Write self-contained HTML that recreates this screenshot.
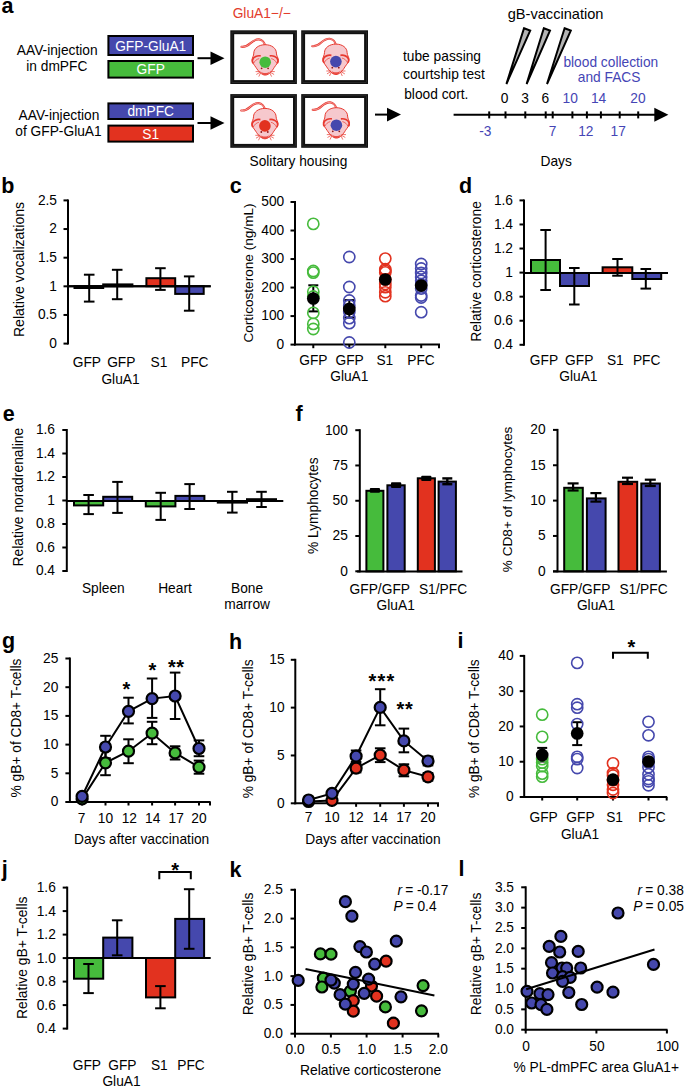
<!DOCTYPE html>
<html><head><meta charset="utf-8"><title>Figure</title>
<style>
html,body{margin:0;padding:0;background:#fff;}
svg{display:block;}
text{font-family:"Liberation Sans",sans-serif;font-size:13.75px;}
</style></head>
<body>
<svg width="685" height="1088" viewBox="0 0 685 1088">
<rect width="685" height="1088" fill="#fff"/>
<text x="1.40" y="12.70" font-weight="bold" style="font-size:21.5px">a</text>
<text x="261.70" y="18.40" text-anchor="middle" fill="#e23c2c">GluA1−/−</text>
<text x="57.20" y="55.00" text-anchor="middle">AAV-injection</text>
<text x="56.80" y="71.40" text-anchor="middle">in dmPFC</text>
<text x="59.00" y="119.60" text-anchor="middle">AAV-injection</text>
<text x="58.50" y="136.00" text-anchor="middle">of GFP-GluA1</text>
<rect x="108.40" y="36.00" width="84.60" height="19.00" fill="#4548ad" stroke="#000" stroke-width="2"/>
<text x="150.70" y="51.00" text-anchor="middle" fill="#fff">GFP-GluA1</text>
<rect x="108.40" y="61.00" width="84.60" height="16.60" fill="#46bb3c" stroke="#000" stroke-width="2"/>
<text x="150.70" y="74.30" text-anchor="middle" fill="#fff">GFP</text>
<rect x="108.40" y="103.40" width="84.60" height="15.60" fill="#4548ad" stroke="#000" stroke-width="2"/>
<text x="150.70" y="116.40" text-anchor="middle" fill="#fff">dmPFC</text>
<rect x="108.40" y="125.60" width="84.60" height="16.00" fill="#e2321f" stroke="#000" stroke-width="2"/>
<text x="150.70" y="139.00" text-anchor="middle" fill="#fff">S1</text>
<line x1="197.50" y1="58.20" x2="211.50" y2="58.20" stroke="#000" stroke-width="2"/>
<polygon points="210.50,51.40 224.50,58.20 210.50,65.00" fill="#000"/>
<line x1="197.50" y1="123.00" x2="211.50" y2="123.00" stroke="#000" stroke-width="2"/>
<polygon points="210.50,116.20 224.50,123.00 210.50,129.80" fill="#000"/>
<line x1="375.00" y1="114.60" x2="388.00" y2="114.60" stroke="#000" stroke-width="2"/>
<polygon points="387.00,107.80 401.00,114.60 387.00,121.40" fill="#000"/>
<rect x="232.25" y="32.25" width="62.70" height="49.80" fill="#fff" stroke="#111" stroke-width="3.9"/>
<rect x="232.00" y="32.00" width="63.20" height="50.30" fill="none" stroke="#3a3a3a" stroke-width="0.5"/>
<rect x="303.15" y="32.25" width="62.90" height="49.80" fill="#fff" stroke="#111" stroke-width="3.9"/>
<rect x="302.90" y="32.00" width="63.40" height="50.30" fill="none" stroke="#3a3a3a" stroke-width="0.5"/>
<rect x="232.25" y="96.05" width="62.70" height="49.80" fill="#fff" stroke="#111" stroke-width="3.9"/>
<rect x="232.00" y="95.80" width="63.20" height="50.30" fill="none" stroke="#3a3a3a" stroke-width="0.5"/>
<rect x="303.15" y="96.05" width="62.90" height="49.80" fill="#fff" stroke="#111" stroke-width="3.9"/>
<rect x="302.90" y="95.80" width="63.40" height="50.30" fill="none" stroke="#3a3a3a" stroke-width="0.5"/>
<g transform="translate(265.20,62.20)"><path d="M-0.2,-17.2 C-0.8,-19.5 -3,-22.6 -6.2,-22.8 C-9.5,-23 -12,-21.5 -15,-18.8 C-17.5,-16.5 -20,-15 -23.7,-15.4" fill="none" stroke="#e8392f" stroke-width="2.1" stroke-linecap="round"/><path d="M-0.2,-17.2 C-0.8,-19.5 -3,-22.6 -6.2,-22.8 C-9.5,-23 -12,-21.5 -15,-18.8 C-17.5,-16.5 -20,-15 -23.7,-15.4" fill="none" stroke="#f9d3d7" stroke-width="0.6" stroke-linecap="round"/><path d="M0,-17.5 C6.5,-17.5 11.2,-13.8 11.2,-9.1 C11.2,-6.2 13.1,-4.6 13.1,-2.3 C13.1,0.6 11,2.2 9,5.3 C7,8.8 3.6,12.9 0,12.9 C-3.6,12.9 -7,8.8 -9.2,5.3 C-11.2,2.2 -13.1,0.6 -13.1,-2.3 C-13.1,-4.6 -11.4,-6.2 -11.4,-9.1 C-11.4,-13.8 -6.5,-17.5 0,-17.5 Z" fill="#f6c8cd" stroke="#e8392f" stroke-width="1"/><path d="M-4.5,-6.3 C-8,-6.9 -11.6,-5.4 -12.6,-2.6 C-13,-1.2 -12.7,0.2 -12.1,1" fill="none" stroke="#e8392f" stroke-width="1.7"/><path d="M4.5,-6.3 C8,-6.9 11.6,-5.4 12.6,-2.6 C13,-1.2 12.7,0.2 12.1,1" fill="none" stroke="#e8392f" stroke-width="1.7"/><path d="M-11.8,1.5 C-10.5,-1.5 -8.5,-3 -6,-3.6 M11.8,1.5 C10.5,-1.5 8.5,-3 6,-3.6" fill="none" stroke="#e8392f" stroke-width="0.7"/><path d="M-4.6,9.2 C-2,11.2 2,11.2 4.6,9.2 L2.6,12.4 L0,12.9 L-2.6,12.4 Z" fill="#e8392f" opacity="0.85"/><circle cx="-3.6" cy="6.1" r="0.9" fill="#8e1717"/><circle cx="2.9" cy="6.1" r="0.9" fill="#8e1717"/><path d="M-5,9.4 L-9.6,9.4 M-5,10 L-8.9,12.3 M-4.6,10.6 L-6.4,14.4 M5,9.4 L9.6,9.4 M5,10 L8.9,12.3 M4.6,10.6 L6.4,14.4" stroke="#e8392f" stroke-width="0.7" fill="none"/><circle cx="0" cy="0" r="5.8" fill="#46bb3c"/></g>
<g transform="translate(335.90,61.60)"><path d="M-0.2,-17.2 C-0.8,-19.5 -3,-22.6 -6.2,-22.8 C-9.5,-23 -12,-21.5 -15,-18.8 C-17.5,-16.5 -20,-15 -23.7,-15.4" fill="none" stroke="#e8392f" stroke-width="2.1" stroke-linecap="round"/><path d="M-0.2,-17.2 C-0.8,-19.5 -3,-22.6 -6.2,-22.8 C-9.5,-23 -12,-21.5 -15,-18.8 C-17.5,-16.5 -20,-15 -23.7,-15.4" fill="none" stroke="#f9d3d7" stroke-width="0.6" stroke-linecap="round"/><path d="M0,-17.5 C6.5,-17.5 11.2,-13.8 11.2,-9.1 C11.2,-6.2 13.1,-4.6 13.1,-2.3 C13.1,0.6 11,2.2 9,5.3 C7,8.8 3.6,12.9 0,12.9 C-3.6,12.9 -7,8.8 -9.2,5.3 C-11.2,2.2 -13.1,0.6 -13.1,-2.3 C-13.1,-4.6 -11.4,-6.2 -11.4,-9.1 C-11.4,-13.8 -6.5,-17.5 0,-17.5 Z" fill="#f6c8cd" stroke="#e8392f" stroke-width="1"/><path d="M-4.5,-6.3 C-8,-6.9 -11.6,-5.4 -12.6,-2.6 C-13,-1.2 -12.7,0.2 -12.1,1" fill="none" stroke="#e8392f" stroke-width="1.7"/><path d="M4.5,-6.3 C8,-6.9 11.6,-5.4 12.6,-2.6 C13,-1.2 12.7,0.2 12.1,1" fill="none" stroke="#e8392f" stroke-width="1.7"/><path d="M-11.8,1.5 C-10.5,-1.5 -8.5,-3 -6,-3.6 M11.8,1.5 C10.5,-1.5 8.5,-3 6,-3.6" fill="none" stroke="#e8392f" stroke-width="0.7"/><path d="M-4.6,9.2 C-2,11.2 2,11.2 4.6,9.2 L2.6,12.4 L0,12.9 L-2.6,12.4 Z" fill="#e8392f" opacity="0.85"/><circle cx="-3.6" cy="6.1" r="0.9" fill="#8e1717"/><circle cx="2.9" cy="6.1" r="0.9" fill="#8e1717"/><path d="M-5,9.4 L-9.6,9.4 M-5,10 L-8.9,12.3 M-4.6,10.6 L-6.4,14.4 M5,9.4 L9.6,9.4 M5,10 L8.9,12.3 M4.6,10.6 L6.4,14.4" stroke="#e8392f" stroke-width="0.7" fill="none"/><circle cx="0" cy="0" r="5.8" fill="#4548ad"/></g>
<g transform="translate(264.90,125.90)"><path d="M-0.2,-17.2 C-0.8,-19.5 -3,-22.6 -6.2,-22.8 C-9.5,-23 -12,-21.5 -15,-18.8 C-17.5,-16.5 -20,-15 -23.7,-15.4" fill="none" stroke="#e8392f" stroke-width="2.1" stroke-linecap="round"/><path d="M-0.2,-17.2 C-0.8,-19.5 -3,-22.6 -6.2,-22.8 C-9.5,-23 -12,-21.5 -15,-18.8 C-17.5,-16.5 -20,-15 -23.7,-15.4" fill="none" stroke="#f9d3d7" stroke-width="0.6" stroke-linecap="round"/><path d="M0,-17.5 C6.5,-17.5 11.2,-13.8 11.2,-9.1 C11.2,-6.2 13.1,-4.6 13.1,-2.3 C13.1,0.6 11,2.2 9,5.3 C7,8.8 3.6,12.9 0,12.9 C-3.6,12.9 -7,8.8 -9.2,5.3 C-11.2,2.2 -13.1,0.6 -13.1,-2.3 C-13.1,-4.6 -11.4,-6.2 -11.4,-9.1 C-11.4,-13.8 -6.5,-17.5 0,-17.5 Z" fill="#f6c8cd" stroke="#e8392f" stroke-width="1"/><path d="M-4.5,-6.3 C-8,-6.9 -11.6,-5.4 -12.6,-2.6 C-13,-1.2 -12.7,0.2 -12.1,1" fill="none" stroke="#e8392f" stroke-width="1.7"/><path d="M4.5,-6.3 C8,-6.9 11.6,-5.4 12.6,-2.6 C13,-1.2 12.7,0.2 12.1,1" fill="none" stroke="#e8392f" stroke-width="1.7"/><path d="M-11.8,1.5 C-10.5,-1.5 -8.5,-3 -6,-3.6 M11.8,1.5 C10.5,-1.5 8.5,-3 6,-3.6" fill="none" stroke="#e8392f" stroke-width="0.7"/><path d="M-4.6,9.2 C-2,11.2 2,11.2 4.6,9.2 L2.6,12.4 L0,12.9 L-2.6,12.4 Z" fill="#e8392f" opacity="0.85"/><circle cx="-3.6" cy="6.1" r="0.9" fill="#8e1717"/><circle cx="2.9" cy="6.1" r="0.9" fill="#8e1717"/><path d="M-5,9.4 L-9.6,9.4 M-5,10 L-8.9,12.3 M-4.6,10.6 L-6.4,14.4 M5,9.4 L9.6,9.4 M5,10 L8.9,12.3 M4.6,10.6 L6.4,14.4" stroke="#e8392f" stroke-width="0.7" fill="none"/><circle cx="0" cy="0" r="5.8" fill="#e2321f"/></g>
<g transform="translate(336.40,125.20)"><path d="M-0.2,-17.2 C-0.8,-19.5 -3,-22.6 -6.2,-22.8 C-9.5,-23 -12,-21.5 -15,-18.8 C-17.5,-16.5 -20,-15 -23.7,-15.4" fill="none" stroke="#e8392f" stroke-width="2.1" stroke-linecap="round"/><path d="M-0.2,-17.2 C-0.8,-19.5 -3,-22.6 -6.2,-22.8 C-9.5,-23 -12,-21.5 -15,-18.8 C-17.5,-16.5 -20,-15 -23.7,-15.4" fill="none" stroke="#f9d3d7" stroke-width="0.6" stroke-linecap="round"/><path d="M0,-17.5 C6.5,-17.5 11.2,-13.8 11.2,-9.1 C11.2,-6.2 13.1,-4.6 13.1,-2.3 C13.1,0.6 11,2.2 9,5.3 C7,8.8 3.6,12.9 0,12.9 C-3.6,12.9 -7,8.8 -9.2,5.3 C-11.2,2.2 -13.1,0.6 -13.1,-2.3 C-13.1,-4.6 -11.4,-6.2 -11.4,-9.1 C-11.4,-13.8 -6.5,-17.5 0,-17.5 Z" fill="#f6c8cd" stroke="#e8392f" stroke-width="1"/><path d="M-4.5,-6.3 C-8,-6.9 -11.6,-5.4 -12.6,-2.6 C-13,-1.2 -12.7,0.2 -12.1,1" fill="none" stroke="#e8392f" stroke-width="1.7"/><path d="M4.5,-6.3 C8,-6.9 11.6,-5.4 12.6,-2.6 C13,-1.2 12.7,0.2 12.1,1" fill="none" stroke="#e8392f" stroke-width="1.7"/><path d="M-11.8,1.5 C-10.5,-1.5 -8.5,-3 -6,-3.6 M11.8,1.5 C10.5,-1.5 8.5,-3 6,-3.6" fill="none" stroke="#e8392f" stroke-width="0.7"/><path d="M-4.6,9.2 C-2,11.2 2,11.2 4.6,9.2 L2.6,12.4 L0,12.9 L-2.6,12.4 Z" fill="#e8392f" opacity="0.85"/><circle cx="-3.6" cy="6.1" r="0.9" fill="#8e1717"/><circle cx="2.9" cy="6.1" r="0.9" fill="#8e1717"/><path d="M-5,9.4 L-9.6,9.4 M-5,10 L-8.9,12.3 M-4.6,10.6 L-6.4,14.4 M5,9.4 L9.6,9.4 M5,10 L8.9,12.3 M4.6,10.6 L6.4,14.4" stroke="#e8392f" stroke-width="0.7" fill="none"/><circle cx="0" cy="0" r="5.8" fill="#4548ad"/></g>
<text x="298.40" y="166.40" text-anchor="middle">Solitary housing</text>
<text x="403.00" y="61.00">tube passing</text>
<text x="403.00" y="78.60">courtship test</text>
<text x="404.20" y="98.60">blood cort.</text>
<text x="555.60" y="19.40" text-anchor="middle" style="font-size:14.6px">gB-vaccination</text>
<text x="610.80" y="66.80" text-anchor="middle" fill="#4545b5">blood collection</text>
<text x="609.10" y="82.20" text-anchor="middle" fill="#4545b5">and FACS</text>
<line x1="453.60" y1="114.80" x2="656.00" y2="114.80" stroke="#000" stroke-width="2"/>
<polygon points="654.3,107.8 668.4,114.8 654.3,121.8" fill="#000"/>
<line x1="489.20" y1="111.40" x2="489.20" y2="118.40" stroke="#000" stroke-width="2"/>
<line x1="505.50" y1="111.40" x2="505.50" y2="118.40" stroke="#000" stroke-width="2"/>
<line x1="525.30" y1="111.40" x2="525.30" y2="118.40" stroke="#000" stroke-width="2"/>
<line x1="545.70" y1="111.40" x2="545.70" y2="118.40" stroke="#000" stroke-width="2"/>
<line x1="552.70" y1="111.40" x2="552.70" y2="118.40" stroke="#000" stroke-width="2"/>
<line x1="572.40" y1="111.40" x2="572.40" y2="118.40" stroke="#000" stroke-width="2"/>
<line x1="586.90" y1="111.40" x2="586.90" y2="118.40" stroke="#000" stroke-width="2"/>
<line x1="600.90" y1="111.40" x2="600.90" y2="118.40" stroke="#000" stroke-width="2"/>
<line x1="619.70" y1="111.40" x2="619.70" y2="118.40" stroke="#000" stroke-width="2"/>
<line x1="638.20" y1="111.40" x2="638.20" y2="118.40" stroke="#000" stroke-width="2"/>
<text x="504.70" y="102.50" text-anchor="middle">0</text>
<text x="525.00" y="102.50" text-anchor="middle">3</text>
<text x="545.30" y="102.50" text-anchor="middle">6</text>
<text x="570.20" y="102.50" text-anchor="middle" fill="#4545b5">10</text>
<text x="598.60" y="102.50" text-anchor="middle" fill="#4545b5">14</text>
<text x="638.00" y="102.50" text-anchor="middle" fill="#4545b5">20</text>
<text x="485.30" y="135.80" text-anchor="middle" fill="#4545b5">-3</text>
<text x="552.70" y="135.80" text-anchor="middle" fill="#4545b5">7</text>
<text x="585.80" y="135.80" text-anchor="middle" fill="#4545b5">12</text>
<text x="618.20" y="135.80" text-anchor="middle" fill="#4545b5">17</text>
<text x="556.20" y="166.00" text-anchor="middle">Days</text>
<polygon points="524,28.2 530.2,30.6 506.4,84.0" fill="#b4b4b4" stroke="#000" stroke-width="2" stroke-linejoin="miter"/>
<polygon points="543.8,28.2 550.0,30.6 526.6,84.0" fill="#b4b4b4" stroke="#000" stroke-width="2" stroke-linejoin="miter"/>
<polygon points="564.6,28.2 570.8,30.6 547.0,84.0" fill="#b4b4b4" stroke="#000" stroke-width="2" stroke-linejoin="miter"/>
<text x="1.20" y="192.70" font-weight="bold" style="font-size:21.5px">b</text>
<line x1="68.00" y1="199.40" x2="68.00" y2="344.60" stroke="#000" stroke-width="2"/>
<line x1="63.50" y1="200.40" x2="68.00" y2="200.40" stroke="#000" stroke-width="2"/>
<text x="57.00" y="204.80" text-anchor="end">2.5</text>
<line x1="63.50" y1="229.04" x2="68.00" y2="229.04" stroke="#000" stroke-width="2"/>
<text x="57.00" y="233.44" text-anchor="end">2</text>
<line x1="63.50" y1="257.68" x2="68.00" y2="257.68" stroke="#000" stroke-width="2"/>
<text x="57.00" y="262.08" text-anchor="end">1.5</text>
<line x1="63.50" y1="286.32" x2="68.00" y2="286.32" stroke="#000" stroke-width="2"/>
<text x="57.00" y="290.72" text-anchor="end">1</text>
<line x1="63.50" y1="314.96" x2="68.00" y2="314.96" stroke="#000" stroke-width="2"/>
<text x="57.00" y="319.36" text-anchor="end">0.5</text>
<line x1="63.50" y1="343.60" x2="68.00" y2="343.60" stroke="#000" stroke-width="2"/>
<text x="57.00" y="348.00" text-anchor="end">0</text>
<line x1="68.00" y1="286.20" x2="210.70" y2="286.20" stroke="#000" stroke-width="2"/>
<rect x="74.50" y="286.20" width="28.70" height="1.80" fill="#46bb3c" stroke="#000" stroke-width="2"/>
<rect x="103.20" y="284.40" width="29.20" height="1.80" fill="#4548ad" stroke="#000" stroke-width="2"/>
<rect x="146.40" y="278.20" width="28.80" height="8.00" fill="#e2321f" stroke="#000" stroke-width="2"/>
<rect x="175.20" y="286.20" width="28.50" height="7.70" fill="#4548ad" stroke="#000" stroke-width="2"/>
<line x1="68.00" y1="286.20" x2="210.70" y2="286.20" stroke="#000" stroke-width="2"/>
<line x1="89.20" y1="274.70" x2="89.20" y2="301.60" stroke="#000" stroke-width="2"/>
<line x1="83.90" y1="274.70" x2="94.50" y2="274.70" stroke="#000" stroke-width="2"/>
<line x1="83.90" y1="301.60" x2="94.50" y2="301.60" stroke="#000" stroke-width="2"/>
<line x1="117.20" y1="269.80" x2="117.20" y2="299.20" stroke="#000" stroke-width="2"/>
<line x1="111.90" y1="269.80" x2="122.50" y2="269.80" stroke="#000" stroke-width="2"/>
<line x1="111.90" y1="299.20" x2="122.50" y2="299.20" stroke="#000" stroke-width="2"/>
<line x1="160.40" y1="268.20" x2="160.40" y2="289.90" stroke="#000" stroke-width="2"/>
<line x1="155.10" y1="268.20" x2="165.70" y2="268.20" stroke="#000" stroke-width="2"/>
<line x1="155.10" y1="289.90" x2="165.70" y2="289.90" stroke="#000" stroke-width="2"/>
<line x1="189.20" y1="276.40" x2="189.20" y2="310.70" stroke="#000" stroke-width="2"/>
<line x1="183.90" y1="276.40" x2="194.50" y2="276.40" stroke="#000" stroke-width="2"/>
<line x1="183.90" y1="310.70" x2="194.50" y2="310.70" stroke="#000" stroke-width="2"/>
<text x="86.90" y="367.00" text-anchor="middle">GFP</text>
<text x="121.30" y="367.00" text-anchor="middle">GFP</text>
<text x="159.00" y="367.00" text-anchor="middle">S1</text>
<text x="194.80" y="367.00" text-anchor="middle">PFC</text>
<text x="120.50" y="383.60" text-anchor="middle">GluA1</text>
<text transform="translate(23.80,269.50) rotate(-90)" text-anchor="middle" style="font-size:14.05px">Relative vocalizations</text>
<text x="229.70" y="192.60" font-weight="bold" style="font-size:21.5px">c</text>
<line x1="295.00" y1="201.00" x2="295.00" y2="345.40" stroke="#000" stroke-width="2"/>
<line x1="290.50" y1="202.00" x2="295.00" y2="202.00" stroke="#000" stroke-width="2"/>
<text x="284.20" y="206.40" text-anchor="end">500</text>
<line x1="290.50" y1="230.52" x2="295.00" y2="230.52" stroke="#000" stroke-width="2"/>
<text x="284.20" y="234.92" text-anchor="end">400</text>
<line x1="290.50" y1="259.04" x2="295.00" y2="259.04" stroke="#000" stroke-width="2"/>
<text x="284.20" y="263.44" text-anchor="end">300</text>
<line x1="290.50" y1="287.56" x2="295.00" y2="287.56" stroke="#000" stroke-width="2"/>
<text x="284.20" y="291.96" text-anchor="end">200</text>
<line x1="290.50" y1="316.08" x2="295.00" y2="316.08" stroke="#000" stroke-width="2"/>
<text x="284.20" y="320.48" text-anchor="end">100</text>
<line x1="290.50" y1="344.60" x2="295.00" y2="344.60" stroke="#000" stroke-width="2"/>
<text x="284.20" y="349.00" text-anchor="end">0</text>
<line x1="294.00" y1="344.40" x2="440.00" y2="344.40" stroke="#000" stroke-width="2"/>
<line x1="313.30" y1="344.40" x2="313.30" y2="348.20" stroke="#000" stroke-width="2"/>
<line x1="349.30" y1="344.40" x2="349.30" y2="348.20" stroke="#000" stroke-width="2"/>
<line x1="385.30" y1="344.40" x2="385.30" y2="348.20" stroke="#000" stroke-width="2"/>
<line x1="421.20" y1="344.40" x2="421.20" y2="348.20" stroke="#000" stroke-width="2"/>
<line x1="439.00" y1="344.40" x2="439.00" y2="348.20" stroke="#000" stroke-width="2"/>
<line x1="313.30" y1="285.30" x2="313.30" y2="311.40" stroke="#000" stroke-width="2"/>
<line x1="308.30" y1="285.30" x2="318.30" y2="285.30" stroke="#000" stroke-width="2"/>
<line x1="308.30" y1="311.40" x2="318.30" y2="311.40" stroke="#000" stroke-width="2"/>
<line x1="349.30" y1="300.10" x2="349.30" y2="317.60" stroke="#000" stroke-width="2"/>
<line x1="344.30" y1="300.10" x2="354.30" y2="300.10" stroke="#000" stroke-width="2"/>
<line x1="344.30" y1="317.60" x2="354.30" y2="317.60" stroke="#000" stroke-width="2"/>
<line x1="385.30" y1="275.50" x2="385.30" y2="283.50" stroke="#000" stroke-width="2"/>
<line x1="381.30" y1="275.50" x2="389.30" y2="275.50" stroke="#000" stroke-width="2"/>
<line x1="381.30" y1="283.50" x2="389.30" y2="283.50" stroke="#000" stroke-width="2"/>
<line x1="421.20" y1="281.60" x2="421.20" y2="289.60" stroke="#000" stroke-width="2"/>
<line x1="417.20" y1="281.60" x2="425.20" y2="281.60" stroke="#000" stroke-width="2"/>
<line x1="417.20" y1="289.60" x2="425.20" y2="289.60" stroke="#000" stroke-width="2"/>
<circle cx="313.30" cy="223.90" r="5.6" fill="none" stroke="#46bb3c" stroke-width="1.6"/>
<circle cx="313.30" cy="271.00" r="5.6" fill="none" stroke="#46bb3c" stroke-width="1.6"/>
<circle cx="313.30" cy="272.60" r="5.6" fill="none" stroke="#46bb3c" stroke-width="1.6"/>
<circle cx="313.30" cy="291.70" r="5.6" fill="none" stroke="#46bb3c" stroke-width="1.6"/>
<circle cx="313.30" cy="296.50" r="5.6" fill="none" stroke="#46bb3c" stroke-width="1.6"/>
<circle cx="313.30" cy="312.90" r="5.6" fill="none" stroke="#46bb3c" stroke-width="1.6"/>
<circle cx="313.30" cy="323.90" r="5.6" fill="none" stroke="#46bb3c" stroke-width="1.6"/>
<circle cx="313.30" cy="329.00" r="5.6" fill="none" stroke="#46bb3c" stroke-width="1.6"/>
<circle cx="349.30" cy="257.00" r="5.6" fill="none" stroke="#4548ad" stroke-width="1.6"/>
<circle cx="349.30" cy="287.00" r="5.6" fill="none" stroke="#4548ad" stroke-width="1.6"/>
<circle cx="349.30" cy="300.50" r="5.6" fill="none" stroke="#4548ad" stroke-width="1.6"/>
<circle cx="349.30" cy="305.50" r="5.6" fill="none" stroke="#4548ad" stroke-width="1.6"/>
<circle cx="349.30" cy="312.00" r="5.6" fill="none" stroke="#4548ad" stroke-width="1.6"/>
<circle cx="349.30" cy="318.10" r="5.6" fill="none" stroke="#4548ad" stroke-width="1.6"/>
<circle cx="349.30" cy="323.20" r="5.6" fill="none" stroke="#4548ad" stroke-width="1.6"/>
<circle cx="349.30" cy="342.50" r="5.6" fill="none" stroke="#4548ad" stroke-width="1.6"/>
<circle cx="385.30" cy="258.60" r="5.6" fill="none" stroke="#e2321f" stroke-width="1.6"/>
<circle cx="385.30" cy="269.20" r="5.6" fill="none" stroke="#e2321f" stroke-width="1.6"/>
<circle cx="385.30" cy="270.80" r="5.6" fill="none" stroke="#e2321f" stroke-width="1.6"/>
<circle cx="385.30" cy="272.40" r="5.6" fill="none" stroke="#e2321f" stroke-width="1.6"/>
<circle cx="385.30" cy="279.50" r="5.6" fill="none" stroke="#e2321f" stroke-width="1.6"/>
<circle cx="385.30" cy="284.00" r="5.6" fill="none" stroke="#e2321f" stroke-width="1.6"/>
<circle cx="385.30" cy="287.20" r="5.6" fill="none" stroke="#e2321f" stroke-width="1.6"/>
<circle cx="385.30" cy="292.30" r="5.6" fill="none" stroke="#e2321f" stroke-width="1.6"/>
<circle cx="385.30" cy="296.20" r="5.6" fill="none" stroke="#e2321f" stroke-width="1.6"/>
<circle cx="421.20" cy="264.00" r="5.6" fill="none" stroke="#4548ad" stroke-width="1.6"/>
<circle cx="421.20" cy="268.50" r="5.6" fill="none" stroke="#4548ad" stroke-width="1.6"/>
<circle cx="421.20" cy="273.00" r="5.6" fill="none" stroke="#4548ad" stroke-width="1.6"/>
<circle cx="421.20" cy="276.90" r="5.6" fill="none" stroke="#4548ad" stroke-width="1.6"/>
<circle cx="421.20" cy="280.70" r="5.6" fill="none" stroke="#4548ad" stroke-width="1.6"/>
<circle cx="421.20" cy="284.60" r="5.6" fill="none" stroke="#4548ad" stroke-width="1.6"/>
<circle cx="421.20" cy="288.50" r="5.6" fill="none" stroke="#4548ad" stroke-width="1.6"/>
<circle cx="421.20" cy="295.50" r="5.6" fill="none" stroke="#4548ad" stroke-width="1.6"/>
<circle cx="421.20" cy="297.50" r="5.6" fill="none" stroke="#4548ad" stroke-width="1.6"/>
<circle cx="421.20" cy="312.20" r="5.6" fill="none" stroke="#4548ad" stroke-width="1.6"/>
<circle cx="313.30" cy="298.50" r="6.35" fill="#000"/>
<circle cx="349.30" cy="308.90" r="6.35" fill="#000"/>
<circle cx="385.30" cy="279.50" r="6.35" fill="#000"/>
<circle cx="421.20" cy="285.60" r="6.35" fill="#000"/>
<text x="313.40" y="364.80" text-anchor="middle">GFP</text>
<text x="349.60" y="364.80" text-anchor="middle">GFP</text>
<text x="384.80" y="364.80" text-anchor="middle">S1</text>
<text x="421.00" y="364.80" text-anchor="middle">PFC</text>
<text x="349.30" y="381.30" text-anchor="middle">GluA1</text>
<text transform="translate(252.50,273.00) rotate(-90)" text-anchor="middle" style="font-size:13.62px">Corticosterone (ng/mL)</text>
<text x="459.10" y="192.60" font-weight="bold" style="font-size:21.5px">d</text>
<line x1="524.00" y1="199.40" x2="524.00" y2="345.80" stroke="#000" stroke-width="2"/>
<line x1="519.50" y1="200.40" x2="524.00" y2="200.40" stroke="#000" stroke-width="2"/>
<text x="513.00" y="204.80" text-anchor="end">1.6</text>
<line x1="519.50" y1="224.47" x2="524.00" y2="224.47" stroke="#000" stroke-width="2"/>
<text x="513.00" y="228.87" text-anchor="end">1.4</text>
<line x1="519.50" y1="248.53" x2="524.00" y2="248.53" stroke="#000" stroke-width="2"/>
<text x="513.00" y="252.93" text-anchor="end">1.2</text>
<line x1="519.50" y1="272.60" x2="524.00" y2="272.60" stroke="#000" stroke-width="2"/>
<text x="513.00" y="277.00" text-anchor="end">1</text>
<line x1="519.50" y1="296.67" x2="524.00" y2="296.67" stroke="#000" stroke-width="2"/>
<text x="513.00" y="301.07" text-anchor="end">0.8</text>
<line x1="519.50" y1="320.73" x2="524.00" y2="320.73" stroke="#000" stroke-width="2"/>
<text x="513.00" y="325.13" text-anchor="end">0.6</text>
<line x1="519.50" y1="344.80" x2="524.00" y2="344.80" stroke="#000" stroke-width="2"/>
<text x="513.00" y="349.20" text-anchor="end">0.4</text>
<rect x="531.00" y="260.00" width="29.00" height="13.00" fill="#46bb3c" stroke="#000" stroke-width="2"/>
<rect x="560.00" y="273.00" width="29.00" height="13.00" fill="#4548ad" stroke="#000" stroke-width="2"/>
<rect x="602.60" y="267.30" width="29.70" height="5.70" fill="#e2321f" stroke="#000" stroke-width="2"/>
<rect x="632.30" y="273.00" width="28.90" height="6.00" fill="#4548ad" stroke="#000" stroke-width="2"/>
<line x1="524.00" y1="273.00" x2="668.00" y2="273.00" stroke="#000" stroke-width="2"/>
<line x1="545.60" y1="230.00" x2="545.60" y2="290.00" stroke="#000" stroke-width="2"/>
<line x1="540.30" y1="230.00" x2="550.90" y2="230.00" stroke="#000" stroke-width="2"/>
<line x1="540.30" y1="290.00" x2="550.90" y2="290.00" stroke="#000" stroke-width="2"/>
<line x1="574.30" y1="268.00" x2="574.30" y2="304.50" stroke="#000" stroke-width="2"/>
<line x1="569.00" y1="268.00" x2="579.60" y2="268.00" stroke="#000" stroke-width="2"/>
<line x1="569.00" y1="304.50" x2="579.60" y2="304.50" stroke="#000" stroke-width="2"/>
<line x1="617.50" y1="259.00" x2="617.50" y2="275.70" stroke="#000" stroke-width="2"/>
<line x1="612.20" y1="259.00" x2="622.80" y2="259.00" stroke="#000" stroke-width="2"/>
<line x1="612.20" y1="275.70" x2="622.80" y2="275.70" stroke="#000" stroke-width="2"/>
<line x1="645.80" y1="269.00" x2="645.80" y2="288.60" stroke="#000" stroke-width="2"/>
<line x1="640.50" y1="269.00" x2="651.10" y2="269.00" stroke="#000" stroke-width="2"/>
<line x1="640.50" y1="288.60" x2="651.10" y2="288.60" stroke="#000" stroke-width="2"/>
<text x="544.00" y="364.80" text-anchor="middle">GFP</text>
<text x="579.20" y="364.80" text-anchor="middle">GFP</text>
<text x="615.30" y="364.80" text-anchor="middle">S1</text>
<text x="646.70" y="364.80" text-anchor="middle">PFC</text>
<text x="578.40" y="381.10" text-anchor="middle">GluA1</text>
<text transform="translate(480.70,271.50) rotate(-90)" text-anchor="middle" style="font-size:13.83px">Relative corticosterone</text>
<text x="2.80" y="420.50" font-weight="bold" style="font-size:21.5px">e</text>
<line x1="66.80" y1="429.00" x2="66.80" y2="572.00" stroke="#000" stroke-width="2"/>
<line x1="62.30" y1="430.00" x2="66.80" y2="430.00" stroke="#000" stroke-width="2"/>
<text x="55.00" y="434.40" text-anchor="end">1.6</text>
<line x1="62.30" y1="453.50" x2="66.80" y2="453.50" stroke="#000" stroke-width="2"/>
<text x="55.00" y="457.90" text-anchor="end">1.4</text>
<line x1="62.30" y1="477.00" x2="66.80" y2="477.00" stroke="#000" stroke-width="2"/>
<text x="55.00" y="481.40" text-anchor="end">1.2</text>
<line x1="62.30" y1="500.50" x2="66.80" y2="500.50" stroke="#000" stroke-width="2"/>
<text x="55.00" y="504.90" text-anchor="end">1</text>
<line x1="62.30" y1="524.00" x2="66.80" y2="524.00" stroke="#000" stroke-width="2"/>
<text x="55.00" y="528.40" text-anchor="end">0.8</text>
<line x1="62.30" y1="547.50" x2="66.80" y2="547.50" stroke="#000" stroke-width="2"/>
<text x="55.00" y="551.90" text-anchor="end">0.6</text>
<line x1="62.30" y1="571.00" x2="66.80" y2="571.00" stroke="#000" stroke-width="2"/>
<text x="55.00" y="575.40" text-anchor="end">0.4</text>
<rect x="74.00" y="501.00" width="29.20" height="4.40" fill="#46bb3c" stroke="#000" stroke-width="2"/>
<rect x="103.20" y="496.80" width="29.00" height="4.20" fill="#4548ad" stroke="#000" stroke-width="2"/>
<rect x="145.80" y="501.00" width="29.60" height="5.40" fill="#46bb3c" stroke="#000" stroke-width="2"/>
<rect x="175.40" y="495.90" width="29.00" height="5.10" fill="#4548ad" stroke="#000" stroke-width="2"/>
<rect x="217.80" y="501.00" width="29.20" height="1.60" fill="#46bb3c" stroke="#000" stroke-width="2"/>
<rect x="247.00" y="499.20" width="29.00" height="1.80" fill="#4548ad" stroke="#000" stroke-width="2"/>
<line x1="66.80" y1="501.00" x2="283.30" y2="501.00" stroke="#000" stroke-width="2"/>
<line x1="88.60" y1="495.00" x2="88.60" y2="514.10" stroke="#000" stroke-width="2"/>
<line x1="83.30" y1="495.00" x2="93.90" y2="495.00" stroke="#000" stroke-width="2"/>
<line x1="83.30" y1="514.10" x2="93.90" y2="514.10" stroke="#000" stroke-width="2"/>
<line x1="117.50" y1="481.90" x2="117.50" y2="512.90" stroke="#000" stroke-width="2"/>
<line x1="112.20" y1="481.90" x2="122.80" y2="481.90" stroke="#000" stroke-width="2"/>
<line x1="112.20" y1="512.90" x2="122.80" y2="512.90" stroke="#000" stroke-width="2"/>
<line x1="160.70" y1="492.80" x2="160.70" y2="519.90" stroke="#000" stroke-width="2"/>
<line x1="155.40" y1="492.80" x2="166.00" y2="492.80" stroke="#000" stroke-width="2"/>
<line x1="155.40" y1="519.90" x2="166.00" y2="519.90" stroke="#000" stroke-width="2"/>
<line x1="189.60" y1="484.10" x2="189.60" y2="509.00" stroke="#000" stroke-width="2"/>
<line x1="184.30" y1="484.10" x2="194.90" y2="484.10" stroke="#000" stroke-width="2"/>
<line x1="184.30" y1="509.00" x2="194.90" y2="509.00" stroke="#000" stroke-width="2"/>
<line x1="232.30" y1="491.80" x2="232.30" y2="512.60" stroke="#000" stroke-width="2"/>
<line x1="227.00" y1="491.80" x2="237.60" y2="491.80" stroke="#000" stroke-width="2"/>
<line x1="227.00" y1="512.60" x2="237.60" y2="512.60" stroke="#000" stroke-width="2"/>
<line x1="261.50" y1="491.80" x2="261.50" y2="507.00" stroke="#000" stroke-width="2"/>
<line x1="256.20" y1="491.80" x2="266.80" y2="491.80" stroke="#000" stroke-width="2"/>
<line x1="256.20" y1="507.00" x2="266.80" y2="507.00" stroke="#000" stroke-width="2"/>
<text x="103.30" y="592.60" text-anchor="middle">Spleen</text>
<text x="175.00" y="592.60" text-anchor="middle">Heart</text>
<text x="247.10" y="592.60" text-anchor="middle">Bone</text>
<text x="247.10" y="608.80" text-anchor="middle">marrow</text>
<text transform="translate(23.20,497.20) rotate(-90)" text-anchor="middle" style="font-size:13.87px">Relative noradrenaline</text>
<text x="295.40" y="420.50" font-weight="bold" style="font-size:21.5px">f</text>
<line x1="359.80" y1="429.20" x2="359.80" y2="572.30" stroke="#000" stroke-width="2"/>
<line x1="355.30" y1="430.20" x2="359.80" y2="430.20" stroke="#000" stroke-width="2"/>
<text x="347.90" y="434.60" text-anchor="end">100</text>
<line x1="355.30" y1="465.47" x2="359.80" y2="465.47" stroke="#000" stroke-width="2"/>
<text x="347.90" y="469.87" text-anchor="end">75</text>
<line x1="355.30" y1="500.75" x2="359.80" y2="500.75" stroke="#000" stroke-width="2"/>
<text x="347.90" y="505.15" text-anchor="end">50</text>
<line x1="355.30" y1="536.02" x2="359.80" y2="536.02" stroke="#000" stroke-width="2"/>
<text x="347.90" y="540.42" text-anchor="end">25</text>
<line x1="355.30" y1="571.30" x2="359.80" y2="571.30" stroke="#000" stroke-width="2"/>
<text x="347.90" y="575.70" text-anchor="end">0</text>
<rect x="366.40" y="490.80" width="17.00" height="80.50" fill="#46bb3c" stroke="#000" stroke-width="2"/>
<rect x="387.40" y="485.30" width="17.30" height="86.00" fill="#4548ad" stroke="#000" stroke-width="2"/>
<rect x="417.80" y="478.30" width="17.10" height="93.00" fill="#e2321f" stroke="#000" stroke-width="2"/>
<rect x="438.60" y="481.60" width="17.30" height="89.70" fill="#4548ad" stroke="#000" stroke-width="2"/>
<line x1="357.00" y1="571.40" x2="462.50" y2="571.40" stroke="#000" stroke-width="2"/>
<rect x="369.8" y="488.0" width="10.20" height="4.80" rx="1" fill="#000"/>
<rect x="391.0" y="482.2" width="10.20" height="5.70" rx="1" fill="#000"/>
<rect x="421.2" y="475.7" width="10.20" height="5.40" rx="1" fill="#000"/>
<line x1="447.30" y1="478.40" x2="447.30" y2="484.20" stroke="#000" stroke-width="2.4"/>
<line x1="442.30" y1="478.40" x2="452.30" y2="478.40" stroke="#000" stroke-width="2.4"/>
<line x1="442.30" y1="484.20" x2="452.30" y2="484.20" stroke="#000" stroke-width="2.4"/>
<text x="379.80" y="593.50" text-anchor="middle">GFP/GFP</text>
<text x="443.00" y="593.50" text-anchor="middle">S1/PFC</text>
<text x="395.70" y="610.30" text-anchor="middle">GluA1</text>
<text transform="translate(318.20,505.70) rotate(-90)" text-anchor="middle">% Lymphocytes</text>
<line x1="557.50" y1="428.90" x2="557.50" y2="572.30" stroke="#000" stroke-width="2"/>
<line x1="553.00" y1="429.90" x2="557.50" y2="429.90" stroke="#000" stroke-width="2"/>
<text x="545.60" y="434.30" text-anchor="end">20</text>
<line x1="553.00" y1="465.25" x2="557.50" y2="465.25" stroke="#000" stroke-width="2"/>
<text x="545.60" y="469.65" text-anchor="end">15</text>
<line x1="553.00" y1="500.60" x2="557.50" y2="500.60" stroke="#000" stroke-width="2"/>
<text x="545.60" y="505.00" text-anchor="end">10</text>
<line x1="553.00" y1="535.95" x2="557.50" y2="535.95" stroke="#000" stroke-width="2"/>
<text x="545.60" y="540.35" text-anchor="end">5</text>
<line x1="553.00" y1="571.30" x2="557.50" y2="571.30" stroke="#000" stroke-width="2"/>
<text x="545.60" y="575.70" text-anchor="end">0</text>
<rect x="564.20" y="487.80" width="18.60" height="83.50" fill="#46bb3c" stroke="#000" stroke-width="2"/>
<rect x="586.90" y="498.40" width="18.70" height="72.90" fill="#4548ad" stroke="#000" stroke-width="2"/>
<rect x="618.50" y="481.80" width="18.70" height="89.50" fill="#e2321f" stroke="#000" stroke-width="2"/>
<rect x="641.30" y="483.50" width="18.60" height="87.80" fill="#4548ad" stroke="#000" stroke-width="2"/>
<line x1="553.00" y1="571.50" x2="666.90" y2="571.50" stroke="#000" stroke-width="2"/>
<line x1="573.10" y1="483.40" x2="573.10" y2="490.50" stroke="#000" stroke-width="2.2"/>
<line x1="567.60" y1="483.40" x2="578.60" y2="483.40" stroke="#000" stroke-width="2.2"/>
<line x1="567.60" y1="490.50" x2="578.60" y2="490.50" stroke="#000" stroke-width="2.2"/>
<line x1="595.90" y1="493.10" x2="595.90" y2="501.60" stroke="#000" stroke-width="2.2"/>
<line x1="590.40" y1="493.10" x2="601.40" y2="493.10" stroke="#000" stroke-width="2.2"/>
<line x1="590.40" y1="501.60" x2="601.40" y2="501.60" stroke="#000" stroke-width="2.2"/>
<line x1="627.50" y1="477.70" x2="627.50" y2="484.00" stroke="#000" stroke-width="2.2"/>
<line x1="622.00" y1="477.70" x2="633.00" y2="477.70" stroke="#000" stroke-width="2.2"/>
<line x1="622.00" y1="484.00" x2="633.00" y2="484.00" stroke="#000" stroke-width="2.2"/>
<line x1="650.30" y1="479.70" x2="650.30" y2="486.00" stroke="#000" stroke-width="2.2"/>
<line x1="644.80" y1="479.70" x2="655.80" y2="479.70" stroke="#000" stroke-width="2.2"/>
<line x1="644.80" y1="486.00" x2="655.80" y2="486.00" stroke="#000" stroke-width="2.2"/>
<text x="580.20" y="593.50" text-anchor="middle">GFP/GFP</text>
<text x="643.50" y="593.50" text-anchor="middle">S1/PFC</text>
<text x="596.00" y="610.30" text-anchor="middle">GluA1</text>
<text transform="translate(512.00,499.40) rotate(-90)" text-anchor="middle" style="font-size:13.62px">% CD8+ of lymphocytes</text>
<text x="2.00" y="648.40" font-weight="bold" style="font-size:21.5px">g</text>
<line x1="69.90" y1="657.50" x2="69.90" y2="803.00" stroke="#000" stroke-width="2"/>
<line x1="65.40" y1="658.50" x2="69.90" y2="658.50" stroke="#000" stroke-width="2"/>
<text x="58.40" y="662.90" text-anchor="end">25</text>
<line x1="65.40" y1="687.20" x2="69.90" y2="687.20" stroke="#000" stroke-width="2"/>
<text x="58.40" y="691.60" text-anchor="end">20</text>
<line x1="65.40" y1="715.90" x2="69.90" y2="715.90" stroke="#000" stroke-width="2"/>
<text x="58.40" y="720.30" text-anchor="end">15</text>
<line x1="65.40" y1="744.60" x2="69.90" y2="744.60" stroke="#000" stroke-width="2"/>
<text x="58.40" y="749.00" text-anchor="end">10</text>
<line x1="65.40" y1="773.30" x2="69.90" y2="773.30" stroke="#000" stroke-width="2"/>
<text x="58.40" y="777.70" text-anchor="end">5</text>
<line x1="65.40" y1="802.00" x2="69.90" y2="802.00" stroke="#000" stroke-width="2"/>
<text x="58.40" y="806.40" text-anchor="end">0</text>
<line x1="65.80" y1="802.00" x2="210.70" y2="802.00" stroke="#000" stroke-width="2"/>
<line x1="82.10" y1="802.00" x2="82.10" y2="805.50" stroke="#000" stroke-width="2"/>
<line x1="105.50" y1="802.00" x2="105.50" y2="805.50" stroke="#000" stroke-width="2"/>
<line x1="128.50" y1="802.00" x2="128.50" y2="805.50" stroke="#000" stroke-width="2"/>
<line x1="152.10" y1="802.00" x2="152.10" y2="805.50" stroke="#000" stroke-width="2"/>
<line x1="175.10" y1="802.00" x2="175.10" y2="805.50" stroke="#000" stroke-width="2"/>
<line x1="199.00" y1="802.00" x2="199.00" y2="805.50" stroke="#000" stroke-width="2"/>
<line x1="210.00" y1="802.00" x2="210.00" y2="805.50" stroke="#000" stroke-width="2"/>
<line x1="105.50" y1="735.80" x2="105.50" y2="758.20" stroke="#000" stroke-width="2"/>
<line x1="100.20" y1="735.80" x2="110.80" y2="735.80" stroke="#000" stroke-width="2"/>
<line x1="100.20" y1="758.20" x2="110.80" y2="758.20" stroke="#000" stroke-width="2"/>
<line x1="128.50" y1="697.70" x2="128.50" y2="723.40" stroke="#000" stroke-width="2"/>
<line x1="123.20" y1="697.70" x2="133.80" y2="697.70" stroke="#000" stroke-width="2"/>
<line x1="123.20" y1="723.40" x2="133.80" y2="723.40" stroke="#000" stroke-width="2"/>
<line x1="152.10" y1="678.50" x2="152.10" y2="717.90" stroke="#000" stroke-width="2"/>
<line x1="146.80" y1="678.50" x2="157.40" y2="678.50" stroke="#000" stroke-width="2"/>
<line x1="146.80" y1="717.90" x2="157.40" y2="717.90" stroke="#000" stroke-width="2"/>
<line x1="175.10" y1="672.60" x2="175.10" y2="719.00" stroke="#000" stroke-width="2"/>
<line x1="169.80" y1="672.60" x2="180.40" y2="672.60" stroke="#000" stroke-width="2"/>
<line x1="169.80" y1="719.00" x2="180.40" y2="719.00" stroke="#000" stroke-width="2"/>
<line x1="199.00" y1="740.40" x2="199.00" y2="756.20" stroke="#000" stroke-width="2"/>
<line x1="193.70" y1="740.40" x2="204.30" y2="740.40" stroke="#000" stroke-width="2"/>
<line x1="193.70" y1="756.20" x2="204.30" y2="756.20" stroke="#000" stroke-width="2"/>
<line x1="105.50" y1="750.40" x2="105.50" y2="775.20" stroke="#000" stroke-width="2"/>
<line x1="100.20" y1="750.40" x2="110.80" y2="750.40" stroke="#000" stroke-width="2"/>
<line x1="100.20" y1="775.20" x2="110.80" y2="775.20" stroke="#000" stroke-width="2"/>
<line x1="128.50" y1="739.30" x2="128.50" y2="763.20" stroke="#000" stroke-width="2"/>
<line x1="123.20" y1="739.30" x2="133.80" y2="739.30" stroke="#000" stroke-width="2"/>
<line x1="123.20" y1="763.20" x2="133.80" y2="763.20" stroke="#000" stroke-width="2"/>
<line x1="152.10" y1="721.80" x2="152.10" y2="744.20" stroke="#000" stroke-width="2"/>
<line x1="146.80" y1="721.80" x2="157.40" y2="721.80" stroke="#000" stroke-width="2"/>
<line x1="146.80" y1="744.20" x2="157.40" y2="744.20" stroke="#000" stroke-width="2"/>
<line x1="175.10" y1="746.30" x2="175.10" y2="759.50" stroke="#000" stroke-width="2"/>
<line x1="169.80" y1="746.30" x2="180.40" y2="746.30" stroke="#000" stroke-width="2"/>
<line x1="169.80" y1="759.50" x2="180.40" y2="759.50" stroke="#000" stroke-width="2"/>
<line x1="199.00" y1="760.60" x2="199.00" y2="773.70" stroke="#000" stroke-width="2"/>
<line x1="193.70" y1="760.60" x2="204.30" y2="760.60" stroke="#000" stroke-width="2"/>
<line x1="193.70" y1="773.70" x2="204.30" y2="773.70" stroke="#000" stroke-width="2"/>
<polyline points="82.10,798.90 105.50,762.80 128.50,751.20 152.10,733.20 175.10,752.90 199.00,767.10" fill="none" stroke="#000" stroke-width="2"/>
<polyline points="82.10,796.30 105.50,747.00 128.50,711.30 152.10,698.60 175.10,696.00 199.00,748.50" fill="none" stroke="#000" stroke-width="2"/>
<circle cx="82.10" cy="798.90" r="5.50" fill="#46bb3c" stroke="#000" stroke-width="2.2"/>
<circle cx="105.50" cy="762.80" r="5.50" fill="#46bb3c" stroke="#000" stroke-width="2.2"/>
<circle cx="128.50" cy="751.20" r="5.50" fill="#46bb3c" stroke="#000" stroke-width="2.2"/>
<circle cx="152.10" cy="733.20" r="5.50" fill="#46bb3c" stroke="#000" stroke-width="2.2"/>
<circle cx="175.10" cy="752.90" r="5.50" fill="#46bb3c" stroke="#000" stroke-width="2.2"/>
<circle cx="199.00" cy="767.10" r="5.50" fill="#46bb3c" stroke="#000" stroke-width="2.2"/>
<circle cx="82.10" cy="796.30" r="5.50" fill="#4548ad" stroke="#000" stroke-width="2.2"/>
<circle cx="105.50" cy="747.00" r="5.50" fill="#4548ad" stroke="#000" stroke-width="2.2"/>
<circle cx="128.50" cy="711.30" r="5.50" fill="#4548ad" stroke="#000" stroke-width="2.2"/>
<circle cx="152.10" cy="698.60" r="5.50" fill="#4548ad" stroke="#000" stroke-width="2.2"/>
<circle cx="175.10" cy="696.00" r="5.50" fill="#4548ad" stroke="#000" stroke-width="2.2"/>
<circle cx="199.00" cy="748.50" r="5.50" fill="#4548ad" stroke="#000" stroke-width="2.2"/>
<text x="122.40" y="696.25" font-weight="bold" style="font-size:20px">*</text>
<text x="148.60" y="677.05" font-weight="bold" style="font-size:20px">*</text>
<text x="167.90" y="674.45" font-weight="bold" style="font-size:20px">*</text>
<text x="176.30" y="674.45" font-weight="bold" style="font-size:20px">*</text>
<text x="81.60" y="822.80" text-anchor="middle">7</text>
<text x="105.50" y="822.80" text-anchor="middle">10</text>
<text x="129.30" y="822.80" text-anchor="middle">12</text>
<text x="152.70" y="822.80" text-anchor="middle">14</text>
<text x="176.20" y="822.80" text-anchor="middle">17</text>
<text x="199.00" y="822.80" text-anchor="middle">20</text>
<text x="141.60" y="844.20" text-anchor="middle">Days after vaccination</text>
<text transform="translate(21.00,728.00) rotate(-90)" text-anchor="middle">% gB+ of CD8+ T-cells</text>
<text x="229.00" y="648.90" font-weight="bold" style="font-size:21.5px">h</text>
<line x1="295.30" y1="658.80" x2="295.30" y2="804.30" stroke="#000" stroke-width="2"/>
<line x1="290.80" y1="659.80" x2="295.30" y2="659.80" stroke="#000" stroke-width="2"/>
<text x="284.60" y="664.20" text-anchor="end">15</text>
<line x1="290.80" y1="707.63" x2="295.30" y2="707.63" stroke="#000" stroke-width="2"/>
<text x="284.60" y="712.03" text-anchor="end">10</text>
<line x1="290.80" y1="755.47" x2="295.30" y2="755.47" stroke="#000" stroke-width="2"/>
<text x="284.60" y="759.87" text-anchor="end">5</text>
<line x1="290.80" y1="803.30" x2="295.30" y2="803.30" stroke="#000" stroke-width="2"/>
<text x="284.60" y="807.70" text-anchor="end">0</text>
<line x1="294.30" y1="803.30" x2="439.00" y2="803.30" stroke="#000" stroke-width="2"/>
<line x1="308.60" y1="803.30" x2="308.60" y2="806.80" stroke="#000" stroke-width="2"/>
<line x1="332.00" y1="803.30" x2="332.00" y2="806.80" stroke="#000" stroke-width="2"/>
<line x1="356.10" y1="803.30" x2="356.10" y2="806.80" stroke="#000" stroke-width="2"/>
<line x1="380.20" y1="803.30" x2="380.20" y2="806.80" stroke="#000" stroke-width="2"/>
<line x1="403.90" y1="803.30" x2="403.90" y2="806.80" stroke="#000" stroke-width="2"/>
<line x1="428.00" y1="803.30" x2="428.00" y2="806.80" stroke="#000" stroke-width="2"/>
<line x1="438.00" y1="803.30" x2="438.00" y2="806.80" stroke="#000" stroke-width="2"/>
<line x1="356.10" y1="750.50" x2="356.10" y2="762.00" stroke="#000" stroke-width="2"/>
<line x1="350.80" y1="750.50" x2="361.40" y2="750.50" stroke="#000" stroke-width="2"/>
<line x1="350.80" y1="762.00" x2="361.40" y2="762.00" stroke="#000" stroke-width="2"/>
<line x1="380.20" y1="689.20" x2="380.20" y2="725.30" stroke="#000" stroke-width="2"/>
<line x1="374.90" y1="689.20" x2="385.50" y2="689.20" stroke="#000" stroke-width="2"/>
<line x1="374.90" y1="725.30" x2="385.50" y2="725.30" stroke="#000" stroke-width="2"/>
<line x1="403.90" y1="728.60" x2="403.90" y2="752.30" stroke="#000" stroke-width="2"/>
<line x1="398.60" y1="728.60" x2="409.20" y2="728.60" stroke="#000" stroke-width="2"/>
<line x1="398.60" y1="752.30" x2="409.20" y2="752.30" stroke="#000" stroke-width="2"/>
<line x1="428.00" y1="756.60" x2="428.00" y2="765.40" stroke="#000" stroke-width="2"/>
<line x1="422.70" y1="756.60" x2="433.30" y2="756.60" stroke="#000" stroke-width="2"/>
<line x1="422.70" y1="765.40" x2="433.30" y2="765.40" stroke="#000" stroke-width="2"/>
<line x1="356.10" y1="764.00" x2="356.10" y2="772.40" stroke="#000" stroke-width="2"/>
<line x1="350.80" y1="764.00" x2="361.40" y2="764.00" stroke="#000" stroke-width="2"/>
<line x1="350.80" y1="772.40" x2="361.40" y2="772.40" stroke="#000" stroke-width="2"/>
<line x1="380.20" y1="748.30" x2="380.20" y2="762.10" stroke="#000" stroke-width="2"/>
<line x1="374.90" y1="748.30" x2="385.50" y2="748.30" stroke="#000" stroke-width="2"/>
<line x1="374.90" y1="762.10" x2="385.50" y2="762.10" stroke="#000" stroke-width="2"/>
<line x1="403.90" y1="764.30" x2="403.90" y2="776.30" stroke="#000" stroke-width="2"/>
<line x1="398.60" y1="764.30" x2="409.20" y2="764.30" stroke="#000" stroke-width="2"/>
<line x1="398.60" y1="776.30" x2="409.20" y2="776.30" stroke="#000" stroke-width="2"/>
<line x1="428.00" y1="773.00" x2="428.00" y2="780.60" stroke="#000" stroke-width="2"/>
<line x1="422.70" y1="773.00" x2="433.30" y2="773.00" stroke="#000" stroke-width="2"/>
<line x1="422.70" y1="780.60" x2="433.30" y2="780.60" stroke="#000" stroke-width="2"/>
<polyline points="308.60,801.50 332.00,800.40 356.10,768.20 380.20,755.10 403.90,770.20 428.00,776.80" fill="none" stroke="#000" stroke-width="2"/>
<polyline points="308.60,800.00 332.00,793.40 356.10,756.20 380.20,707.40 403.90,740.90 428.00,761.00" fill="none" stroke="#000" stroke-width="2"/>
<circle cx="308.60" cy="801.50" r="5.50" fill="#e2321f" stroke="#000" stroke-width="2.2"/>
<circle cx="332.00" cy="800.40" r="5.50" fill="#e2321f" stroke="#000" stroke-width="2.2"/>
<circle cx="356.10" cy="768.20" r="5.50" fill="#e2321f" stroke="#000" stroke-width="2.2"/>
<circle cx="380.20" cy="755.10" r="5.50" fill="#e2321f" stroke="#000" stroke-width="2.2"/>
<circle cx="403.90" cy="770.20" r="5.50" fill="#e2321f" stroke="#000" stroke-width="2.2"/>
<circle cx="428.00" cy="776.80" r="5.50" fill="#e2321f" stroke="#000" stroke-width="2.2"/>
<circle cx="308.60" cy="800.00" r="5.50" fill="#4548ad" stroke="#000" stroke-width="2.2"/>
<circle cx="332.00" cy="793.40" r="5.50" fill="#4548ad" stroke="#000" stroke-width="2.2"/>
<circle cx="356.10" cy="756.20" r="5.50" fill="#4548ad" stroke="#000" stroke-width="2.2"/>
<circle cx="380.20" cy="707.40" r="5.50" fill="#4548ad" stroke="#000" stroke-width="2.2"/>
<circle cx="403.90" cy="740.90" r="5.50" fill="#4548ad" stroke="#000" stroke-width="2.2"/>
<circle cx="428.00" cy="761.00" r="5.50" fill="#4548ad" stroke="#000" stroke-width="2.2"/>
<text x="368.50" y="687.95" font-weight="bold" style="font-size:20px">*</text>
<text x="377.50" y="687.95" font-weight="bold" style="font-size:20px">*</text>
<text x="386.50" y="687.95" font-weight="bold" style="font-size:20px">*</text>
<text x="396.50" y="716.25" font-weight="bold" style="font-size:20px">*</text>
<text x="404.90" y="716.25" font-weight="bold" style="font-size:20px">*</text>
<text x="308.60" y="822.30" text-anchor="middle">7</text>
<text x="332.00" y="822.30" text-anchor="middle">10</text>
<text x="356.10" y="822.30" text-anchor="middle">12</text>
<text x="380.20" y="822.30" text-anchor="middle">14</text>
<text x="403.90" y="822.30" text-anchor="middle">17</text>
<text x="428.00" y="822.30" text-anchor="middle">20</text>
<text x="373.00" y="844.00" text-anchor="middle">Days after vaccination</text>
<text transform="translate(252.90,728.90) rotate(-90)" text-anchor="middle">% gB+ of CD8+ T-cells</text>
<text x="457.40" y="647.50" font-weight="bold" style="font-size:21.5px">i</text>
<line x1="524.20" y1="654.90" x2="524.20" y2="798.00" stroke="#000" stroke-width="2"/>
<line x1="519.70" y1="655.90" x2="524.20" y2="655.90" stroke="#000" stroke-width="2"/>
<text x="513.60" y="660.30" text-anchor="end">40</text>
<line x1="519.70" y1="691.17" x2="524.20" y2="691.17" stroke="#000" stroke-width="2"/>
<text x="513.60" y="695.57" text-anchor="end">30</text>
<line x1="519.70" y1="726.45" x2="524.20" y2="726.45" stroke="#000" stroke-width="2"/>
<text x="513.60" y="730.85" text-anchor="end">20</text>
<line x1="519.70" y1="761.73" x2="524.20" y2="761.73" stroke="#000" stroke-width="2"/>
<text x="513.60" y="766.12" text-anchor="end">10</text>
<line x1="519.70" y1="797.00" x2="524.20" y2="797.00" stroke="#000" stroke-width="2"/>
<text x="513.60" y="801.40" text-anchor="end">0</text>
<line x1="523.20" y1="797.00" x2="667.20" y2="797.00" stroke="#000" stroke-width="2"/>
<line x1="542.20" y1="797.00" x2="542.20" y2="800.50" stroke="#000" stroke-width="2"/>
<line x1="577.20" y1="797.00" x2="577.20" y2="800.50" stroke="#000" stroke-width="2"/>
<line x1="613.00" y1="797.00" x2="613.00" y2="800.50" stroke="#000" stroke-width="2"/>
<line x1="648.50" y1="797.00" x2="648.50" y2="800.50" stroke="#000" stroke-width="2"/>
<line x1="666.70" y1="797.00" x2="666.70" y2="800.50" stroke="#000" stroke-width="2"/>
<line x1="542.20" y1="747.90" x2="542.20" y2="761.50" stroke="#000" stroke-width="2"/>
<line x1="537.20" y1="747.90" x2="547.20" y2="747.90" stroke="#000" stroke-width="2"/>
<line x1="537.20" y1="761.50" x2="547.20" y2="761.50" stroke="#000" stroke-width="2"/>
<line x1="577.20" y1="722.20" x2="577.20" y2="745.10" stroke="#000" stroke-width="2"/>
<line x1="572.20" y1="722.20" x2="582.20" y2="722.20" stroke="#000" stroke-width="2"/>
<line x1="572.20" y1="745.10" x2="582.20" y2="745.10" stroke="#000" stroke-width="2"/>
<line x1="613.00" y1="776.00" x2="613.00" y2="783.40" stroke="#000" stroke-width="2"/>
<line x1="609.00" y1="776.00" x2="617.00" y2="776.00" stroke="#000" stroke-width="2"/>
<line x1="609.00" y1="783.40" x2="617.00" y2="783.40" stroke="#000" stroke-width="2"/>
<line x1="648.50" y1="757.50" x2="648.50" y2="765.50" stroke="#000" stroke-width="2"/>
<line x1="644.50" y1="757.50" x2="652.50" y2="757.50" stroke="#000" stroke-width="2"/>
<line x1="644.50" y1="765.50" x2="652.50" y2="765.50" stroke="#000" stroke-width="2"/>
<circle cx="542.20" cy="714.70" r="5.6" fill="none" stroke="#46bb3c" stroke-width="1.6"/>
<circle cx="542.20" cy="736.90" r="5.6" fill="none" stroke="#46bb3c" stroke-width="1.6"/>
<circle cx="542.20" cy="759.10" r="5.6" fill="none" stroke="#46bb3c" stroke-width="1.6"/>
<circle cx="542.20" cy="762.60" r="5.6" fill="none" stroke="#46bb3c" stroke-width="1.6"/>
<circle cx="542.20" cy="766.10" r="5.6" fill="none" stroke="#46bb3c" stroke-width="1.6"/>
<circle cx="542.20" cy="773.60" r="5.6" fill="none" stroke="#46bb3c" stroke-width="1.6"/>
<circle cx="542.20" cy="776.70" r="5.6" fill="none" stroke="#46bb3c" stroke-width="1.6"/>
<circle cx="577.20" cy="662.90" r="5.6" fill="none" stroke="#4548ad" stroke-width="1.6"/>
<circle cx="577.20" cy="704.20" r="5.6" fill="none" stroke="#4548ad" stroke-width="1.6"/>
<circle cx="577.20" cy="707.70" r="5.6" fill="none" stroke="#4548ad" stroke-width="1.6"/>
<circle cx="577.20" cy="724.10" r="5.6" fill="none" stroke="#4548ad" stroke-width="1.6"/>
<circle cx="577.20" cy="756.80" r="5.6" fill="none" stroke="#4548ad" stroke-width="1.6"/>
<circle cx="577.20" cy="759.10" r="5.6" fill="none" stroke="#4548ad" stroke-width="1.6"/>
<circle cx="577.20" cy="768.00" r="5.6" fill="none" stroke="#4548ad" stroke-width="1.6"/>
<circle cx="613.00" cy="763.30" r="5.6" fill="none" stroke="#e2321f" stroke-width="1.6"/>
<circle cx="613.00" cy="773.10" r="5.6" fill="none" stroke="#e2321f" stroke-width="1.6"/>
<circle cx="613.00" cy="775.50" r="5.6" fill="none" stroke="#e2321f" stroke-width="1.6"/>
<circle cx="613.00" cy="780.20" r="5.6" fill="none" stroke="#e2321f" stroke-width="1.6"/>
<circle cx="613.00" cy="784.80" r="5.6" fill="none" stroke="#e2321f" stroke-width="1.6"/>
<circle cx="613.00" cy="789.50" r="5.6" fill="none" stroke="#e2321f" stroke-width="1.6"/>
<circle cx="613.00" cy="793.00" r="5.6" fill="none" stroke="#e2321f" stroke-width="1.6"/>
<circle cx="648.50" cy="721.80" r="5.6" fill="none" stroke="#4548ad" stroke-width="1.6"/>
<circle cx="648.50" cy="735.30" r="5.6" fill="none" stroke="#4548ad" stroke-width="1.6"/>
<circle cx="648.50" cy="756.80" r="5.6" fill="none" stroke="#4548ad" stroke-width="1.6"/>
<circle cx="648.50" cy="759.10" r="5.6" fill="none" stroke="#4548ad" stroke-width="1.6"/>
<circle cx="648.50" cy="762.60" r="5.6" fill="none" stroke="#4548ad" stroke-width="1.6"/>
<circle cx="648.50" cy="767.30" r="5.6" fill="none" stroke="#4548ad" stroke-width="1.6"/>
<circle cx="648.50" cy="774.30" r="5.6" fill="none" stroke="#4548ad" stroke-width="1.6"/>
<circle cx="648.50" cy="779.00" r="5.6" fill="none" stroke="#4548ad" stroke-width="1.6"/>
<circle cx="648.50" cy="781.30" r="5.6" fill="none" stroke="#4548ad" stroke-width="1.6"/>
<circle cx="648.50" cy="785.30" r="5.6" fill="none" stroke="#4548ad" stroke-width="1.6"/>
<circle cx="542.20" cy="754.90" r="6.35" fill="#000"/>
<circle cx="577.20" cy="733.40" r="6.35" fill="#000"/>
<circle cx="613.00" cy="779.70" r="6.35" fill="#000"/>
<circle cx="648.50" cy="761.50" r="6.35" fill="#000"/>
<polyline points="613,658.7 613,652.8 647.8,652.8 647.8,658.7" fill="none" stroke="#000" stroke-width="2"/>
<text x="627.60" y="654.25" font-weight="bold" style="font-size:20px">*</text>
<text x="543.60" y="822.00" text-anchor="middle">GFP</text>
<text x="580.50" y="822.00" text-anchor="middle">GFP</text>
<text x="614.60" y="822.00" text-anchor="middle">S1</text>
<text x="652.00" y="822.00" text-anchor="middle">PFC</text>
<text x="580.00" y="838.70" text-anchor="middle">GluA1</text>
<text transform="translate(479.40,728.70) rotate(-90)" text-anchor="middle">% gB+ of CD8+ T-cells</text>
<text x="1.70" y="876.20" font-weight="bold" style="font-size:21.5px">j</text>
<line x1="67.20" y1="886.60" x2="67.20" y2="1029.60" stroke="#000" stroke-width="2"/>
<line x1="62.70" y1="887.60" x2="67.20" y2="887.60" stroke="#000" stroke-width="2"/>
<text x="55.80" y="892.00" text-anchor="end">1.6</text>
<line x1="62.70" y1="911.10" x2="67.20" y2="911.10" stroke="#000" stroke-width="2"/>
<text x="55.80" y="915.50" text-anchor="end">1.4</text>
<line x1="62.70" y1="934.60" x2="67.20" y2="934.60" stroke="#000" stroke-width="2"/>
<text x="55.80" y="939.00" text-anchor="end">1.2</text>
<line x1="62.70" y1="958.10" x2="67.20" y2="958.10" stroke="#000" stroke-width="2"/>
<text x="55.80" y="962.50" text-anchor="end">1.0</text>
<line x1="62.70" y1="981.60" x2="67.20" y2="981.60" stroke="#000" stroke-width="2"/>
<text x="55.80" y="986.00" text-anchor="end">0.8</text>
<line x1="62.70" y1="1005.10" x2="67.20" y2="1005.10" stroke="#000" stroke-width="2"/>
<text x="55.80" y="1009.50" text-anchor="end">0.6</text>
<line x1="62.70" y1="1028.60" x2="67.20" y2="1028.60" stroke="#000" stroke-width="2"/>
<text x="55.80" y="1033.00" text-anchor="end">0.4</text>
<rect x="74.00" y="958.00" width="29.20" height="20.70" fill="#46bb3c" stroke="#000" stroke-width="2"/>
<rect x="103.20" y="937.60" width="29.20" height="20.40" fill="#4548ad" stroke="#000" stroke-width="2"/>
<rect x="146.00" y="958.00" width="29.20" height="39.40" fill="#e2321f" stroke="#000" stroke-width="2"/>
<rect x="175.20" y="918.90" width="28.90" height="39.10" fill="#4548ad" stroke="#000" stroke-width="2"/>
<line x1="67.20" y1="958.00" x2="210.70" y2="958.00" stroke="#000" stroke-width="2"/>
<line x1="88.50" y1="964.00" x2="88.50" y2="993.10" stroke="#000" stroke-width="2"/>
<line x1="83.20" y1="964.00" x2="93.80" y2="964.00" stroke="#000" stroke-width="2"/>
<line x1="83.20" y1="993.10" x2="93.80" y2="993.10" stroke="#000" stroke-width="2"/>
<line x1="117.20" y1="920.30" x2="117.20" y2="955.30" stroke="#000" stroke-width="2"/>
<line x1="111.90" y1="920.30" x2="122.50" y2="920.30" stroke="#000" stroke-width="2"/>
<line x1="111.90" y1="955.30" x2="122.50" y2="955.30" stroke="#000" stroke-width="2"/>
<line x1="160.40" y1="986.10" x2="160.40" y2="1008.30" stroke="#000" stroke-width="2"/>
<line x1="155.10" y1="986.10" x2="165.70" y2="986.10" stroke="#000" stroke-width="2"/>
<line x1="155.10" y1="1008.30" x2="165.70" y2="1008.30" stroke="#000" stroke-width="2"/>
<line x1="189.20" y1="889.20" x2="189.20" y2="948.80" stroke="#000" stroke-width="2"/>
<line x1="183.90" y1="889.20" x2="194.50" y2="889.20" stroke="#000" stroke-width="2"/>
<line x1="183.90" y1="948.80" x2="194.50" y2="948.80" stroke="#000" stroke-width="2"/>
<polyline points="159.3,879.2 159.3,872.1 190.8,872.1 190.8,879.2" fill="none" stroke="#000" stroke-width="2"/>
<text x="171.30" y="877.15" font-weight="bold" style="font-size:20px">*</text>
<text x="86.90" y="1069.90" text-anchor="middle">GFP</text>
<text x="122.40" y="1069.90" text-anchor="middle">GFP</text>
<text x="159.30" y="1069.90" text-anchor="middle">S1</text>
<text x="191.00" y="1069.90" text-anchor="middle">PFC</text>
<text x="121.50" y="1085.70" text-anchor="middle">GluA1</text>
<text transform="translate(27.10,957.80) rotate(-90)" text-anchor="middle" style="font-size:13.85px">Relative gB+ T-cells</text>
<text x="229.40" y="876.60" font-weight="bold" style="font-size:21.5px">k</text>
<line x1="295.00" y1="888.80" x2="295.00" y2="1034.70" stroke="#000" stroke-width="2"/>
<line x1="290.50" y1="889.80" x2="295.00" y2="889.80" stroke="#000" stroke-width="2"/>
<text x="282.80" y="894.20" text-anchor="end">2.5</text>
<line x1="290.50" y1="918.58" x2="295.00" y2="918.58" stroke="#000" stroke-width="2"/>
<text x="282.80" y="922.98" text-anchor="end">2.0</text>
<line x1="290.50" y1="947.36" x2="295.00" y2="947.36" stroke="#000" stroke-width="2"/>
<text x="282.80" y="951.76" text-anchor="end">1.5</text>
<line x1="290.50" y1="976.14" x2="295.00" y2="976.14" stroke="#000" stroke-width="2"/>
<text x="282.80" y="980.54" text-anchor="end">1.0</text>
<line x1="290.50" y1="1004.92" x2="295.00" y2="1004.92" stroke="#000" stroke-width="2"/>
<text x="282.80" y="1009.32" text-anchor="end">0.5</text>
<line x1="290.50" y1="1033.70" x2="295.00" y2="1033.70" stroke="#000" stroke-width="2"/>
<text x="282.80" y="1038.10" text-anchor="end">0.0</text>
<line x1="294.00" y1="1033.70" x2="439.00" y2="1033.70" stroke="#000" stroke-width="2"/>
<line x1="295.00" y1="1033.70" x2="295.00" y2="1037.50" stroke="#000" stroke-width="2"/>
<line x1="330.90" y1="1033.70" x2="330.90" y2="1037.50" stroke="#000" stroke-width="2"/>
<line x1="366.60" y1="1033.70" x2="366.60" y2="1037.50" stroke="#000" stroke-width="2"/>
<line x1="402.60" y1="1033.70" x2="402.60" y2="1037.50" stroke="#000" stroke-width="2"/>
<line x1="438.30" y1="1033.70" x2="438.30" y2="1037.50" stroke="#000" stroke-width="2"/>
<text x="295.10" y="1054.40" text-anchor="middle">0.0</text>
<text x="331.00" y="1054.40" text-anchor="middle">0.5</text>
<text x="366.70" y="1054.40" text-anchor="middle">1.0</text>
<text x="402.70" y="1054.40" text-anchor="middle">1.5</text>
<text x="438.40" y="1054.40" text-anchor="middle">2.0</text>
<text x="370.60" y="1074.60" text-anchor="middle" style="font-size:13.9px">Relative corticosterone</text>
<circle cx="320.40" cy="953.90" r="5.50" fill="#46bb3c" stroke="#000" stroke-width="2.2"/>
<circle cx="331.00" cy="954.20" r="5.50" fill="#46bb3c" stroke="#000" stroke-width="2.2"/>
<circle cx="323.40" cy="978.20" r="5.50" fill="#46bb3c" stroke="#000" stroke-width="2.2"/>
<circle cx="321.90" cy="987.00" r="5.50" fill="#46bb3c" stroke="#000" stroke-width="2.2"/>
<circle cx="350.40" cy="991.10" r="5.50" fill="#46bb3c" stroke="#000" stroke-width="2.2"/>
<circle cx="385.40" cy="1006.90" r="5.50" fill="#46bb3c" stroke="#000" stroke-width="2.2"/>
<circle cx="423.10" cy="985.60" r="5.50" fill="#46bb3c" stroke="#000" stroke-width="2.2"/>
<circle cx="421.50" cy="1010.80" r="5.50" fill="#46bb3c" stroke="#000" stroke-width="2.2"/>
<circle cx="386.10" cy="961.20" r="5.50" fill="#e2321f" stroke="#000" stroke-width="2.2"/>
<circle cx="371.50" cy="986.00" r="5.50" fill="#e2321f" stroke="#000" stroke-width="2.2"/>
<circle cx="376.60" cy="996.20" r="5.50" fill="#e2321f" stroke="#000" stroke-width="2.2"/>
<circle cx="353.30" cy="1000.60" r="5.50" fill="#e2321f" stroke="#000" stroke-width="2.2"/>
<circle cx="353.30" cy="1011.20" r="5.50" fill="#e2321f" stroke="#000" stroke-width="2.2"/>
<circle cx="393.40" cy="1023.20" r="5.50" fill="#e2321f" stroke="#000" stroke-width="2.2"/>
<circle cx="298.20" cy="980.40" r="5.50" fill="#4548ad" stroke="#000" stroke-width="2.2"/>
<circle cx="345.40" cy="901.70" r="5.50" fill="#4548ad" stroke="#000" stroke-width="2.2"/>
<circle cx="351.90" cy="916.20" r="5.50" fill="#4548ad" stroke="#000" stroke-width="2.2"/>
<circle cx="396.30" cy="941.20" r="5.50" fill="#4548ad" stroke="#000" stroke-width="2.2"/>
<circle cx="359.90" cy="946.60" r="5.50" fill="#4548ad" stroke="#000" stroke-width="2.2"/>
<circle cx="366.40" cy="952.00" r="5.50" fill="#4548ad" stroke="#000" stroke-width="2.2"/>
<circle cx="374.70" cy="964.10" r="5.50" fill="#4548ad" stroke="#000" stroke-width="2.2"/>
<circle cx="355.50" cy="972.40" r="5.50" fill="#4548ad" stroke="#000" stroke-width="2.2"/>
<circle cx="334.30" cy="983.10" r="5.50" fill="#4548ad" stroke="#000" stroke-width="2.2"/>
<circle cx="331.00" cy="980.10" r="5.50" fill="#4548ad" stroke="#000" stroke-width="2.2"/>
<circle cx="353.30" cy="984.10" r="5.50" fill="#4548ad" stroke="#000" stroke-width="2.2"/>
<circle cx="368.60" cy="979.10" r="5.50" fill="#4548ad" stroke="#000" stroke-width="2.2"/>
<circle cx="340.10" cy="994.70" r="5.50" fill="#4548ad" stroke="#000" stroke-width="2.2"/>
<circle cx="364.20" cy="993.30" r="5.50" fill="#4548ad" stroke="#000" stroke-width="2.2"/>
<circle cx="345.30" cy="1004.20" r="5.50" fill="#4548ad" stroke="#000" stroke-width="2.2"/>
<circle cx="401.00" cy="996.80" r="5.50" fill="#4548ad" stroke="#000" stroke-width="2.2"/>
<line x1="305.50" y1="969.00" x2="434.40" y2="995.60" stroke="#000" stroke-width="2"/>
<text x="448.40" y="895.00" text-anchor="end"><tspan font-style="italic">r</tspan><tspan dx="-0.7"> </tspan>= -0.17</text>
<text x="436.60" y="910.60" text-anchor="end"><tspan font-style="italic">P</tspan><tspan dx="-0.9"> </tspan>= 0.4</text>
<text transform="translate(252.90,953.90) rotate(-90)" text-anchor="middle" style="font-size:13.85px">Relative gB+ T-cells</text>
<text x="458.50" y="875.90" font-weight="bold" style="font-size:21.5px">l</text>
<line x1="525.70" y1="886.30" x2="525.70" y2="1030.70" stroke="#000" stroke-width="2"/>
<line x1="521.20" y1="887.30" x2="525.70" y2="887.30" stroke="#000" stroke-width="2"/>
<text x="514.00" y="891.70" text-anchor="end">3.5</text>
<line x1="521.20" y1="907.64" x2="525.70" y2="907.64" stroke="#000" stroke-width="2"/>
<text x="514.00" y="912.04" text-anchor="end">3.0</text>
<line x1="521.20" y1="927.99" x2="525.70" y2="927.99" stroke="#000" stroke-width="2"/>
<text x="514.00" y="932.39" text-anchor="end">2.5</text>
<line x1="521.20" y1="948.33" x2="525.70" y2="948.33" stroke="#000" stroke-width="2"/>
<text x="514.00" y="952.73" text-anchor="end">2.0</text>
<line x1="521.20" y1="968.67" x2="525.70" y2="968.67" stroke="#000" stroke-width="2"/>
<text x="514.00" y="973.07" text-anchor="end">1.5</text>
<line x1="521.20" y1="989.01" x2="525.70" y2="989.01" stroke="#000" stroke-width="2"/>
<text x="514.00" y="993.41" text-anchor="end">1.0</text>
<line x1="521.20" y1="1009.36" x2="525.70" y2="1009.36" stroke="#000" stroke-width="2"/>
<text x="514.00" y="1013.76" text-anchor="end">0.5</text>
<line x1="521.20" y1="1029.70" x2="525.70" y2="1029.70" stroke="#000" stroke-width="2"/>
<text x="514.00" y="1034.10" text-anchor="end">0.0</text>
<line x1="524.70" y1="1029.70" x2="667.50" y2="1029.70" stroke="#000" stroke-width="2"/>
<line x1="525.70" y1="1029.70" x2="525.70" y2="1033.50" stroke="#000" stroke-width="2"/>
<line x1="596.40" y1="1029.70" x2="596.40" y2="1033.50" stroke="#000" stroke-width="2"/>
<line x1="666.90" y1="1029.70" x2="666.90" y2="1033.50" stroke="#000" stroke-width="2"/>
<text x="526.20" y="1051.30" text-anchor="middle">0</text>
<text x="596.90" y="1051.30" text-anchor="middle">50</text>
<text x="667.40" y="1051.30" text-anchor="middle">100</text>
<text x="596.30" y="1072.10" text-anchor="middle">% PL-dmPFC area GluA1+</text>
<circle cx="618.00" cy="913.00" r="5.50" fill="#4548ad" stroke="#000" stroke-width="2.2"/>
<circle cx="560.90" cy="936.40" r="5.50" fill="#4548ad" stroke="#000" stroke-width="2.2"/>
<circle cx="549.20" cy="946.40" r="5.50" fill="#4548ad" stroke="#000" stroke-width="2.2"/>
<circle cx="559.70" cy="952.00" r="5.50" fill="#4548ad" stroke="#000" stroke-width="2.2"/>
<circle cx="578.20" cy="951.40" r="5.50" fill="#4548ad" stroke="#000" stroke-width="2.2"/>
<circle cx="551.50" cy="962.70" r="5.50" fill="#4548ad" stroke="#000" stroke-width="2.2"/>
<circle cx="562.00" cy="968.00" r="5.50" fill="#4548ad" stroke="#000" stroke-width="2.2"/>
<circle cx="566.70" cy="968.00" r="5.50" fill="#4548ad" stroke="#000" stroke-width="2.2"/>
<circle cx="580.70" cy="968.00" r="5.50" fill="#4548ad" stroke="#000" stroke-width="2.2"/>
<circle cx="552.50" cy="973.00" r="5.50" fill="#4548ad" stroke="#000" stroke-width="2.2"/>
<circle cx="562.60" cy="976.70" r="5.50" fill="#4548ad" stroke="#000" stroke-width="2.2"/>
<circle cx="570.20" cy="977.30" r="5.50" fill="#4548ad" stroke="#000" stroke-width="2.2"/>
<circle cx="562.60" cy="981.40" r="5.50" fill="#4548ad" stroke="#000" stroke-width="2.2"/>
<circle cx="653.50" cy="964.40" r="5.50" fill="#4548ad" stroke="#000" stroke-width="2.2"/>
<circle cx="597.10" cy="987.20" r="5.50" fill="#4548ad" stroke="#000" stroke-width="2.2"/>
<circle cx="613.00" cy="992.20" r="5.50" fill="#4548ad" stroke="#000" stroke-width="2.2"/>
<circle cx="527.00" cy="991.30" r="5.50" fill="#4548ad" stroke="#000" stroke-width="2.2"/>
<circle cx="539.90" cy="993.60" r="5.50" fill="#4548ad" stroke="#000" stroke-width="2.2"/>
<circle cx="548.00" cy="994.60" r="5.50" fill="#4548ad" stroke="#000" stroke-width="2.2"/>
<circle cx="568.80" cy="992.50" r="5.50" fill="#4548ad" stroke="#000" stroke-width="2.2"/>
<circle cx="531.70" cy="1003.00" r="5.50" fill="#4548ad" stroke="#000" stroke-width="2.2"/>
<circle cx="541.00" cy="1004.70" r="5.50" fill="#4548ad" stroke="#000" stroke-width="2.2"/>
<circle cx="546.90" cy="1009.40" r="5.50" fill="#4548ad" stroke="#000" stroke-width="2.2"/>
<circle cx="581.70" cy="1004.50" r="5.50" fill="#4548ad" stroke="#000" stroke-width="2.2"/>
<line x1="526.20" y1="989.20" x2="654.50" y2="949.50" stroke="#000" stroke-width="2"/>
<text x="683.80" y="894.50" text-anchor="end"><tspan font-style="italic">r</tspan><tspan dx="-0.7"> </tspan>= 0.38</text>
<text x="684.00" y="910.80" text-anchor="end"><tspan font-style="italic">P</tspan><tspan dx="-0.9"> </tspan>= 0.05</text>
<text transform="translate(480.80,953.90) rotate(-90)" text-anchor="middle" style="font-size:13.85px">Relative gB+ T-cells</text>
</svg>
</body></html>
